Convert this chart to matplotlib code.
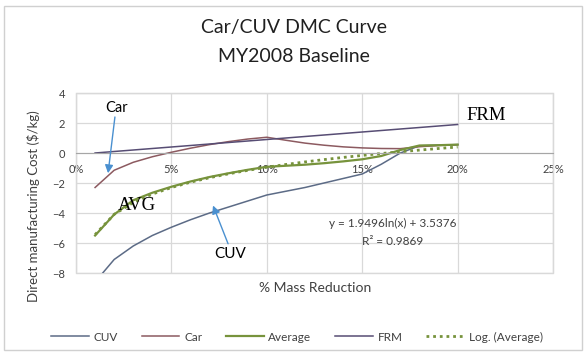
import numpy as np
import matplotlib
matplotlib.use("Agg")
import matplotlib.pyplot as plt
from matplotlib.ticker import PercentFormatter, MultipleLocator
from matplotlib.patches import Rectangle

# Data
mass_red = [0.01, 0.02, 0.03, 0.04, 0.05, 0.06, 0.07, 0.08, 0.09, 0.10,
            0.11, 0.12, 0.13, 0.14, 0.15, 0.16, 0.17, 0.18, 0.19, 0.20]
cuv = [-8.6, -7.1, -6.2, -5.5, -4.95, -4.45, -4.0, -3.6, -3.2, -2.8,
       -2.55, -2.3, -2.0, -1.7, -1.4, -0.75, 0.0, 0.48, 0.52, 0.56]
car = [-2.3, -1.15, -0.62, -0.25, 0.05, 0.32, 0.56, 0.76, 0.93, 1.05,
       0.85, 0.66, 0.52, 0.41, 0.34, 0.30, 0.29, 0.42, 0.50, 0.55]
average = [-5.5, -4.1, -3.15, -2.65, -2.25, -1.9, -1.6, -1.35, -1.12, -0.92,
           -0.85, -0.78, -0.68, -0.56, -0.42, -0.2, 0.2, 0.5, 0.52, 0.56]
frm_x = [0.01, 0.20]
frm_y = [0.0, 1.9]

# log trendline coefficients shown on the chart
log_a = 1.9496
log_b = 3.5376
r_squared = 0.9869

plt.rcParams['font.family'] = ['Lato', 'DejaVu Sans']

fig = plt.figure(figsize=(5.88, 3.59), dpi=100)
ax = fig.add_axes([76 / 588, 1 - 273 / 359, (553 - 76) / 588, (273 - 93) / 359])

x_arr = np.array(mass_red)
log_fit = log_a * np.log(x_arr) + log_b

ax.plot(mass_red, cuv, color='#5C6B86', lw=1.1, label='CUV')
ax.plot(mass_red, car, color='#8C5A60', lw=1.1, label='Car')
ax.plot(mass_red, average, color='#77933C', lw=1.6, label='Average')
ax.plot(frm_x, frm_y, color='#574D74', lw=1.1, label='FRM')
ax.plot(mass_red, log_fit, color='#77933C', lw=2.0, linestyle=(0, (1, 1.4)),
        label='Log. (Average)')

ax.set_xlim(0, 0.25)
ax.set_ylim(-8, 4)
ax.xaxis.set_major_locator(MultipleLocator(0.05))
ax.yaxis.set_major_locator(MultipleLocator(2))
ax.xaxis.set_major_formatter(PercentFormatter(1, decimals=0))
ax.grid(True, color='#d9d9d9', lw=0.9)
ax.set_axisbelow(True)

# x axis crosses at zero like Excel
for s in ['top', 'right', 'left']:
    ax.spines[s].set_color('#d9d9d9')
ax.spines['bottom'].set_position(('data', 0))
ax.spines['bottom'].set_color('#a6a6a6')
ax.add_patch(Rectangle((0, 0), 1, 1, transform=ax.transAxes, fill=False,
                       edgecolor='#d9d9d9', lw=1.0, clip_on=False))
ax.tick_params(length=0, labelsize=8, colors='#404040')
ax.tick_params(axis='x', pad=8)
ax.tick_params(axis='y', pad=8)

ax.set_ylabel('Direct manufacturing Cost ($/kg)', fontsize=9.5, color='#404040')
ax.yaxis.set_label_coords(-0.075, 0.37)
fig.text(315 / 588, 1 - 288 / 359, '% Mass Reduction', fontsize=10,
         color='#404040', ha='center', va='center')

fig.text(294 / 588, 1 - 28 / 359, 'Car/CUV DMC Curve', fontsize=14,
         ha='center', va='center', color='#202020')
fig.text(294 / 588, 1 - 57 / 359, 'MY2008 Baseline', fontsize=14,
         ha='center', va='center', color='#202020')

# annotations
arrow = dict(arrowstyle='-|>', color='#4A90D0', lw=1.0, mutation_scale=12,
             shrinkA=0, shrinkB=0)
ax.text(0.0215, 3.0, 'Car', fontsize=10.5, ha='center', va='center')
ax.annotate('', xy=(0.0168, -1.35), xytext=(0.0204, 2.4), arrowprops=arrow)
ax.text(0.0807, -6.75, 'CUV', fontsize=11, ha='center', va='center')
ax.annotate('', xy=(0.0718, -3.5), xytext=(0.0797, -6.05), arrowprops=arrow)
ax.text(0.032, -3.47, 'AVG', fontsize=13.5, family='Liberation Serif',
        ha='center', va='center')
ax.text(0.215, 2.47, 'FRM', fontsize=13.5, family='Liberation Serif',
        ha='center', va='center', clip_on=False)
ax.text(0.166, -4.73, 'y = {}ln(x) + {}'.format(log_a, log_b), fontsize=8.5,
        ha='center', va='center', color='#404040')
ax.text(0.166, -5.87, 'R² = {}'.format(r_squared), fontsize=8.5,
        ha='center', va='center', color='#404040')

fig.legend(loc='center', bbox_to_anchor=(0.505, 1 - 337 / 359), ncol=5,
           frameon=False, fontsize=8.5, handlelength=3.2, handletextpad=0.4,
           columnspacing=2.0, labelcolor='#404040')

fig.patches.append(Rectangle((4 / 588, 1 - 350 / 359), 578 / 588, 344 / 359,
                             transform=fig.transFigure, fill=False,
                             edgecolor='#d0d0d0', lw=1.0))

fig.savefig('out.png', dpi=100)
